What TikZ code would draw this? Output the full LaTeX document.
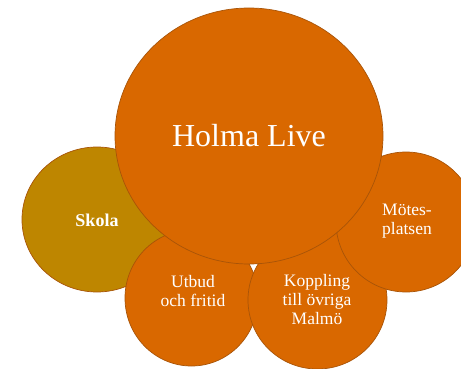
\documentclass[tikz,border=0pt]{standalone}
\usepackage{fontspec}
\setmainfont{Liberation Serif}
\definecolor{orangefill}{HTML}{D96800}
\definecolor{goldfill}{HTML}{BE8600}
\definecolor{edgecol}{HTML}{A85408}
\begin{document}
\begin{tikzpicture}[x=1pt,y=-1pt,
  bubble/.style={draw=edgecol,line width=0.7pt,fill=orangefill},
  goldbubble/.style={draw=edgecol,line width=0.7pt,fill=goldfill},
  lbl/.style={text=white,align=center,font=\fontsize{17.5}{19}\selectfont},
  biglbl/.style={text=white,font=\fontsize{32}{36}\selectfont}]
\useasboundingbox (0,0) rectangle (461,369);
\clip (0,0) rectangle (461,369);
% circles, back to front
\path[goldbubble] (97,219.5) ellipse [x radius=75, y radius=72.5];
\path[bubble] (191.5,298) ellipse [x radius=66.5, y radius=68];
\path[bubble] (317.5,300) ellipse [x radius=69.5, y radius=69];
\path[bubble] (406,222) ellipse [x radius=70, y radius=70];
\path[bubble] (249,136) ellipse [x radius=134, y radius=128];
% labels
\node[biglbl] (holma) at (249,136) {Holma Live};
\node[lbl,font=\fontsize{18}{19}\selectfont\bfseries] (skola) at (97,220) {Skola};
\node[lbl] (utbud) at (193,291) {Utbud\\och fritid};
\node[lbl] (koppling) at (317,300) {Koppling\\till övriga\\Malmö};
\node[lbl] (motes) at (407,221) {Mötes-\\platsen};
\end{tikzpicture}
\end{document}
